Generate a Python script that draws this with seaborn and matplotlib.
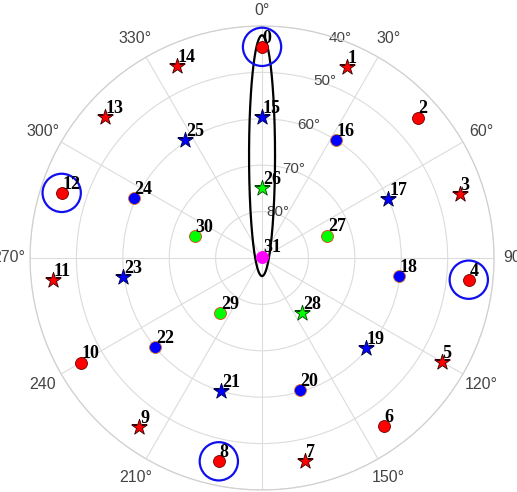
import numpy as np
import pandas as pd
import seaborn as sns
import matplotlib.pyplot as plt

sat_id = list(range(32))
azimuth = [0, 24, 48, 72, 96, 120, 144, 168, 192, 216, 240, 264, 288, 312, 336,
           0, 32, 65, 97.5, 131, 164, 197, 230, 262, 295, 327,
           0, 71, 144, 217, 288,
           0]
elevation = [44.5, 45.0, 44.8, 45.2, 45.2, 45.3, 45.3, 45.3, 45.2, 45.0, 44.9, 44.7, 44.6, 44.5, 44.7,
             59.6, 60.0, 60.0, 60.2, 60.4, 60.4, 60.0, 60.0, 59.8, 59.5, 59.6,
             74.9, 75.2, 75.3, 75.1, 74.8,
             89.7]
group = ['red'] * 15 + ['blue'] * 11 + ['green'] * 5 + ['magenta']
shape = ['o', '*', 'o', '*', 'o', '*', 'o', '*', 'o', '*', 'o', '*', 'o', '*', '*',
         '*', 'o', '*', 'o', '*', 'o', '*', 'o', '*', 'o', '*',
         '*', 'o', '*', 'o', 'o',
         'o']
circled = [0, 4, 8, 12]          # satellites with a blue ring
in_ellipse = [0, 15, 26, 31]     # satellites inside the black ellipse

theta_ticks = list(range(0, 360, 30))
theta_labels = ['0°', '30°', '60°', '90°', '120°', '150°', '180°', '210°', '240', '270°', '300°', '330°']
elev_ticks = [80, 70, 60, 50, 40]

fill = {'red': '#ff0000', 'blue': '#0000ff', 'green': '#00ff00', 'magenta': '#ff00ff'}
edge = {('red', 'o'): '#700000', ('red', '*'): '#300000',
        ('blue', 'o'): '#e07020', ('blue', '*'): '#000040',
        ('green', 'o'): '#e04020', ('green', '*'): '#004000',
        ('magenta', 'o'): '#ff00ff'}

df = pd.DataFrame({'id': sat_id, 'az': azimuth, 'el': elevation, 'group': group, 'shape': shape})
df['theta'] = np.deg2rad(df['az'])
df['r'] = 90 - df['el']

sns.set_theme(style='white')
fig = plt.figure(figsize=(5.17, 4.92), dpi=100)
ax = fig.add_axes([0.0581, 0.0041, 0.8975, 0.9431], projection='polar')
ax.set_theta_zero_location('N')
ax.set_theta_direction(-1)

# black ellipse around the overhead column
rr = df.set_index('id').loc[in_ellipse, 'r']
r_top, r_bot = rr.max() + 2.5, rr.min() - 4.2
yc, a, b = (r_top + r_bot) / 2, (r_top - r_bot) / 2, 2.8
t = np.linspace(0, 2 * np.pi, 400)
ex, ey = b * np.cos(t), yc + a * np.sin(t)
ax.plot(np.unwrap(np.arctan2(ex, ey)), np.hypot(ex, ey), color='black', lw=1.6, zorder=3)

for (g, s), sub in df.groupby(['group', 'shape']):
    sns.scatterplot(data=sub, x='theta', y='r', ax=ax, marker=s, color=fill[g],
                    edgecolor=edge[(g, s)], linewidth=0.6,
                    s=140 if s == '*' else 74, zorder=4, legend=False)

ring = df[df['id'].isin(circled)]
ax.scatter(ring['theta'], ring['r'], s=760, facecolors='none', edgecolors='#1010ee',
           linewidths=1.6, zorder=5)

for _, row in df.iterrows():
    ax.annotate(str(row['id']), (row['theta'], row['r']), xytext=(0.6, 3),
                textcoords='offset points', ha='left', va='baseline',
                fontsize=13, fontweight='bold', family='Liberation Serif', color='black', zorder=6)

ax.set_ylim(0, 50)
ax.set_xticks(np.deg2rad(theta_ticks))
ax.set_xticklabels([])
ax.set_yticks([90 - e for e in elev_ticks])
ax.set_yticklabels([])

# azimuth labels just outside the rim (the top one sits a bit closer)
for th, lab in zip(theta_ticks, theta_labels):
    ax.text(np.deg2rad(th), 53.3 if th == 0 else 54.6, lab, ha='center', va='center',
            fontsize=11.5, color='#444444', family='Liberation Sans', clip_on=False)
# elevation labels centred on the rings along the 19 deg spoke
for e in elev_ticks:
    ax.text(np.deg2rad(19.5), 90 - e + 0.4, f'{e}°', ha='center', va='center',
            fontsize=11, color='#444444', family='Liberation Sans', zorder=2)

ax.set_xlabel('')
ax.set_ylabel('')
ax.grid(True, color='#dcdcdc', lw=0.8)
ax.spines['polar'].set_color('#d0d0d0')
ax.spines['polar'].set_linewidth(0.9)

fig.savefig('out.png', dpi=100)
